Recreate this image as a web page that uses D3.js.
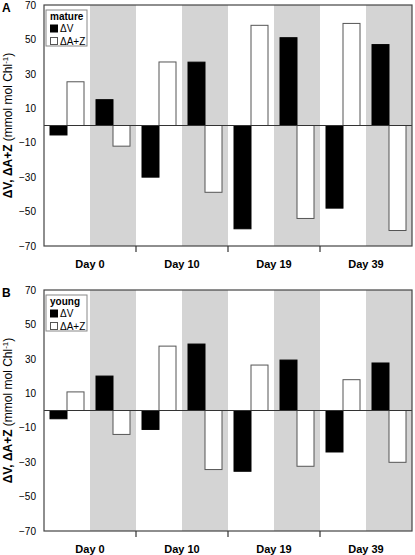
<!DOCTYPE html>
<html><head><meta charset="utf-8">
<script src="https://cdn.jsdelivr.net/npm/d3@7"></script>
<style>
html,body{margin:0;padding:0;background:#fff;}
text{font-family:"Liberation Sans",Arial,sans-serif;}
</style></head>
<body><svg id="c" width="415" height="555"></svg>
<script>
const days = ["Day 0", "Day 10", "Day 19", "Day 39"];
const halves = ["white", "gray"];
const seriesNames = ["ΔV", "ΔA+Z"];
const yTicks = [70, 50, 30, 10, -10, -30, -50, -70];

// panel A (mature): values per day, [white half, gray half]
const matureDV  = [[-5.5, 15], [-30, 36.8], [-60, 51], [-48, 47]];
const matureDAZ = [[25.4, -12], [36.9, -38.8], [58.2, -54], [59.3, -61]];
// panel B (young)
const youngDV   = [[-4.8, 20], [-11, 38.6], [-35.3, 29.3], [-24.1, 27.6]];
const youngDAZ  = [[10.8, -13.9], [37.4, -34.3], [26.4, -32.4], [17.9, -30.1]];

const panels = [
  {label: "A", legend: "mature", dv: matureDV, daz: matureDAZ, oy: 0},
  {label: "B", legend: "young", dv: youngDV, daz: youngDAZ, oy: 285}
];

const svg = d3.select("#c");
const L = 44, R = 412, T = 5, B = 246;

const x = d3.scaleBand().domain(days).range([L, R]).padding(0);
const xh = d3.scaleBand().domain(halves).range([0, x.bandwidth()]).padding(0);
const xs = d3.scaleBand().domain(seriesNames).range([6, xh.bandwidth() - 6]).padding(0);
const y = d3.scaleLinear().domain([-70, 70]).range([B, T]);

panels.forEach(p => {
  const g = svg.append("g").attr("transform", `translate(0,${p.oy})`);
  // backgrounds
  days.forEach(d => {
    g.append("rect").attr("x", x(d) + xh("gray")).attr("y", T)
      .attr("width", xh.bandwidth()).attr("height", B - T).attr("fill", "#d4d4d4");
  });
  // bars
  const rows = [];
  days.forEach((d, i) => halves.forEach((h, j) => {
    rows.push({day: d, half: h, s: "ΔV", v: p.dv[i][j]});
    rows.push({day: d, half: h, s: "ΔA+Z", v: p.daz[i][j]});
  }));
  g.selectAll("rect.bar").data(rows).join("rect").attr("class", "bar")
    .attr("x", r => x(r.day) + xh(r.half) + xs(r.s))
    .attr("width", xs.bandwidth())
    .attr("y", r => y(Math.max(0, r.v)))
    .attr("height", r => Math.abs(y(r.v) - y(0)))
    .attr("fill", r => r.s === "ΔV" ? "#000" : "#fff")
    .attr("stroke", r => r.s === "ΔV" ? "#000" : "#555")
    .attr("stroke-width", 1);
  // zero line
  g.append("line").attr("x1", L).attr("x2", R).attr("y1", y(0)).attr("y2", y(0))
    .attr("stroke", "#333").attr("stroke-width", 1);
  // frame
  g.append("rect").attr("x", L).attr("y", T).attr("width", R - L).attr("height", B - T)
    .attr("fill", "none").attr("stroke", "#444").attr("stroke-width", 1.2);
  // y axis
  const ya = d3.axisLeft(y).tickValues(yTicks).tickSize(0).tickPadding(8);
  const yg = g.append("g").attr("transform", `translate(${L},0)`).call(ya);
  yg.select(".domain").remove();
  yg.selectAll("text").attr("font-size", 10).attr("fill", "#000")
    .style("font-family", "'Liberation Sans',Arial,sans-serif");
  // x axis ticks at day boundaries
  const xa = d3.axisBottom(x).tickSize(0).tickPadding(14);
  const xg = g.append("g").attr("transform", `translate(0,${B})`).call(xa);
  xg.select(".domain").remove();
  xg.selectAll("text").attr("font-size", 11).attr("font-weight", "bold").attr("fill", "#000")
    .style("font-family", "'Liberation Sans',Arial,sans-serif");
  days.slice(1).forEach(d => {
    g.append("line").attr("x1", x(d)).attr("x2", x(d)).attr("y1", B).attr("y2", B + 6)
      .attr("stroke", "#333").attr("stroke-width", 1.2);
  });
  // panel label
  g.append("text").attr("x", 2).attr("y", 12).attr("font-size", 12).attr("font-weight", "bold").text(p.label);
  // y title
  const t = g.append("text").attr("transform", `translate(12,${y(0)}) rotate(-90)`)
    .attr("text-anchor", "middle").attr("font-size", 12);
  t.append("tspan").attr("font-weight", "bold").text("ΔV, ΔA+Z");
  t.append("tspan").text(" (mmol mol Chl");
  t.append("tspan").attr("font-size", 8).attr("dy", -4).text("-1");
  t.append("tspan").attr("dy", 4).text(")");
  // legend
  const lg = g.append("g");
  lg.append("rect").attr("x", 46).attr("y", 10).attr("width", 41).attr("height", 36)
    .attr("fill", "#fff").attr("stroke", "#888").attr("stroke-width", 1);
  lg.append("text").attr("x", 50).attr("y", 20).attr("font-size", 10).attr("font-weight", "bold").text(p.legend);
  seriesNames.forEach((s, i) => {
    lg.append("rect").attr("x", 50.5).attr("y", 25 + i * 12.5).attr("width", 7).attr("height", 7)
      .attr("fill", i === 0 ? "#000" : "#fff").attr("stroke", i === 0 ? "#000" : "#555");
    lg.append("text").attr("x", 60).attr("y", 32 + i * 12.5).attr("font-size", 10).text(s);
  });
});
</script></body></html>
